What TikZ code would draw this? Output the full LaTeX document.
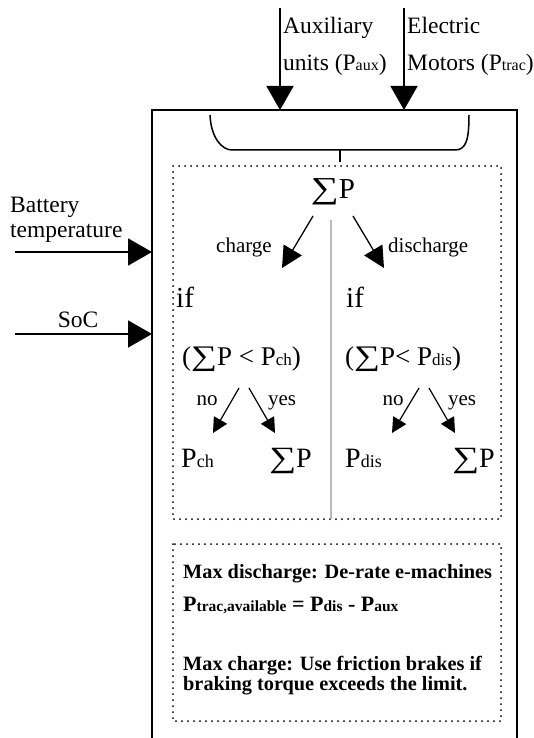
\documentclass[tikz,border=0pt]{standalone}
\usepackage{fontspec}
\setmainfont{Liberation Serif}
\usetikzlibrary{arrows.meta}
\usetikzlibrary{positioning}

% small letters kept on the baseline
\newcommand{\lo}[2][16]{{\fontsize{#1}{#1}\selectfont #2}}
% wide sum sign
\newcommand{\sig}{\scalebox{1.35}[1.05]{∑}}

\begin{document}
\begin{tikzpicture}[x=1pt, y=-1pt,
		t/.style	= {anchor=base west,	inner sep=0pt,	font=\fontsize{23.5}{26}\selectfont},
		m/.style	= {inner sep=0pt,	font=\fontsize{27}{30}\selectfont},
		lab/.style	= {inner sep=0pt,	font=\fontsize{21}{24}\selectfont},
		b/.style	= {anchor=base west,	inner sep=0pt,	font=\fontsize{20.3}{24}\selectfont\bfseries},
		inp/.style	= {-{Triangle[length=24pt, width=27pt]},	line width=1.5pt},
		br/.style	= {-{Triangle[length=21pt, width=21pt]},	line width=1.3pt},
		sm/.style	= {-{Triangle[length=15pt, width=15pt]},	line width=1.2pt},
		dots/.style	= {line width=2pt, dash pattern=on 0pt off 6pt, line cap=round}
		]
		
		\useasboundingbox (0,0) rectangle (533,738);
		
		%Box
		\draw[line width=1.5pt]	(152,738)	|-	(517,110)	--	(517,738);
		\draw[line width=1.5pt]	(210,115)	.. controls (211,138) and (222,150) ..	(232,150)
			--	(455,150)	.. controls (466,150) and (469,140) ..	(469,115);
		\draw[line width=1.3pt]	(340,150)	--	(340,162);
		\draw[dots]	(173,166)	rectangle	(501,519);
		\draw[dots]	(173,544)	rectangle	(501,721);
		\draw[gray!55, line width=1.2pt]	(331,220)	--	(331,519);
		
		%Nodes
		\node[t]	(aux1)	at	(283,34)	{Auxiliary};
		\node[t]	(aux2)	at	(283,71)	{units (P\lo{aux})};
		\node[t]	(mot1)	at	(407,34)	{Electric};
		\node[t]	(mot2)	at	(407,71)	{Motors (P\lo{trac})};
		
		\node[t]	(bat1)	at	(10,212)	{Battery};
		\node[t]	(bat2)	at	(10,237)	{temperature};
		\node[t, anchor=base]	(soc)	at	(78,327)	{SoC};
		
		\node[m, anchor=base, font=\fontsize{29}{30}\selectfont]	(sum)	at	(333,198)	{\sig P};
		\node[lab, anchor=base east]	(chg)	at	(272,252)	{charge};
		\node[lab, anchor=base west]	(dis)	at	(388,252)	{discharge};
		
		\node[m, anchor=base west, font=\fontsize{29}{30}\selectfont]	(if1)	at	(176,307)	{if};
		\node[m, anchor=base west, font=\fontsize{29}{30}\selectfont]	(if2)	at	(346,307)	{if};
		\node[m, anchor=base west]	(cnd1)	at	(182,365)	{(\sig P < P\lo[17]{ch})};
		\node[m, anchor=base west]	(cnd2)	at	(345,365)	{(\sig P< P\lo[17]{dis})};
		
		\node[lab, anchor=base]	(no1)	at	(207,405)	{no};
		\node[lab, anchor=base]	(yes1)	at	(282,405)	{yes};
		\node[lab, anchor=base]	(no2)	at	(393,405)	{no};
		\node[lab, anchor=base]	(yes2)	at	(462,405)	{yes};
		
		\node[m, anchor=base west, font=\fontsize{28}{30}\selectfont]	(pch)	at	(181,467)	{P\lo[18]{ch}};
		\node[m, anchor=base east, font=\fontsize{28}{30}\selectfont]	(sum1)	at	(312,467)	{\sig P};
		\node[m, anchor=base west, font=\fontsize{28}{30}\selectfont]	(pdis)	at	(345,467)	{P\lo[18]{dis}};
		\node[m, anchor=base east, font=\fontsize{28}{30}\selectfont]	(sum2)	at	(495,467)	{\sig P};
		
		\node[b]	(mx1)	at	(183,578)	{Max discharge: De-rate e-machines};
		\node[b, font=\fontsize{22}{24}\selectfont\bfseries]	(eq)	at	(183,611)	{P\lo[15.5]{trac,available} = P\lo[15.5]{dis} - P\lo[15.5]{aux}};
		\node[b]	(mx2)	at	(183,670)	{Max charge: Use friction brakes if};
		\node[b]	(mx3)	at	(183,690)	{braking torque exceeds the limit.};
		
		%Coordinates
		\coordinate	(a0)	at	(280,8);
		\coordinate	(a1)	at	(280,110);
		\coordinate	(e0)	at	(404,8);
		\coordinate	(e1)	at	(404,110);
		\coordinate	(bt0)	at	(15,252);
		\coordinate	(bt1)	at	(152,252);
		\coordinate	(s0)	at	(15,334);
		\coordinate	(s1)	at	(152,334);
		\coordinate	(c0)	at	(313,216);
		\coordinate	(c1)	at	(282,268);
		\coordinate	(d0)	at	(353,216);
		\coordinate	(d1)	at	(384,268);
		\coordinate	(n10)	at	(239,388);
		\coordinate	(n11)	at	(213,433);
		\coordinate	(y10)	at	(249,388);
		\coordinate	(y11)	at	(275,433);
		\coordinate	(n20)	at	(419,388);
		\coordinate	(n21)	at	(392,433);
		\coordinate	(y20)	at	(429,388);
		\coordinate	(y21)	at	(455,433);
		
		%Lines
		\draw[inp]	(a0)	--	(a1);
		\draw[inp]	(e0)	--	(e1);
		\draw[inp]	(bt0)	--	(bt1);
		\draw[inp]	(s0)	--	(s1);
		
		\draw[br]	(c0)	--	(c1);
		\draw[br]	(d0)	--	(d1);
		
		\draw[sm]	(n10)	--	(n11);
		\draw[sm]	(y10)	--	(y11);
		\draw[sm]	(n20)	--	(n21);
		\draw[sm]	(y20)	--	(y21);
	\end{tikzpicture}
\end{document}
